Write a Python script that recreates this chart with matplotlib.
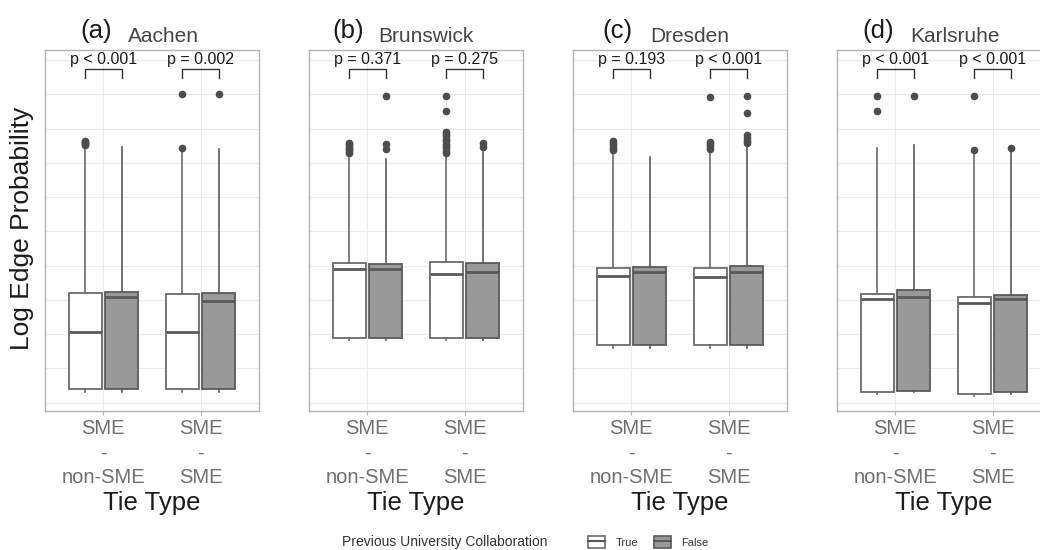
"""Log edge probability by tie type, four regions, split by previous
university collaboration (boxplots with p-value brackets)."""
import matplotlib.pyplot as plt
from matplotlib.lines import Line2D
from matplotlib.patches import Patch
from matplotlib.legend_handler import HandlerTuple

plt.rcParams["font.family"] = ["Liberation Sans", "DejaVu Sans"]

CITIES = ["Aachen", "Brunswick", "Dresden", "Karlsruhe"]
LETTERS = ["(a)", "(b)", "(c)", "(d)"]
TIE_TYPES = ["SME\n-\nnon-SME", "SME\n-\nSME"]
GROUPS = ["True", "False"]
P_LABELS = [
    ["p < 0.001", "p = 0.002"],
    ["p = 0.371", "p = 0.275"],
    ["p = 0.193", "p < 0.001"],
    ["p < 0.001", "p < 0.001"],
]

# box order per city: (non-SME/True, non-SME/False, SME/True, SME/False)
Q1 = [
    [-9.61, -9.61, -9.61, -9.61],
    [-8.10, -8.10, -8.10, -8.10],
    [-8.32, -8.32, -8.32, -8.32],
    [-9.70, -9.65, -9.75, -9.70],
]
MEDIAN = [
    [-7.93, -6.91, -7.93, -7.03],
    [-6.11, -6.11, -6.24, -6.19],
    [-6.29, -6.19, -6.32, -6.19],
    [-6.98, -6.91, -7.10, -6.97],
]
Q3 = [
    [-6.81, -6.76, -6.83, -6.81],
    [-5.93, -5.95, -5.90, -5.93],
    [-6.06, -6.05, -6.06, -6.01],
    [-6.84, -6.71, -6.91, -6.86],
]
WHIS_LO = [
    [-9.68, -9.68, -9.68, -9.68],
    [-8.17, -8.17, -8.17, -8.17],
    [-8.39, -8.39, -8.39, -8.39],
    [-9.74, -9.70, -9.79, -9.74],
]
WHIS_HI = [
    [-2.53, -2.53, -2.62, -2.61],
    [-2.82, -2.90, -2.75, -2.68],
    [-2.70, -2.84, -2.70, -2.52],
    [-2.56, -2.48, -2.66, -2.61],
]
FLIERS = [
    [[-2.36, -2.39, -2.42, -2.45, -2.48], [], [-2.58, -1.00], [-1.00]],
    [[-2.41, -2.46, -2.51, -2.56, -2.61, -2.66, -2.71], [-2.45, -2.61, -1.05],
     [-2.09, -2.16, -2.23, -2.30, -2.37, -2.44, -2.51, -2.58, -2.65, -2.72, -1.49, -1.05],
     [-2.43, -2.55]],
    [[-2.35, -2.42, -2.49, -2.56, -2.63], [],
     [-2.38, -2.45, -2.52, -2.60, -1.07],
     [-2.19, -2.27, -2.35, -2.43, -1.56, -1.05]],
    [[-1.05, -1.49], [-1.05], [-2.63, -1.05], [-2.58]],
]

FILL = {"True": "white", "False": "#999999"}
EDGE = {"True": "#6b6b6b", "False": "#5a5a5a"}

W, H = 1040, 550
PANEL_LEFT = [45, 309, 573, 837]
PANEL_W = 214
PANEL_TOP, PANEL_BOT = 50, 411
TITLE_X = [(80, 128), (332, 378), (602, 650), (862, 910)]


def px(x, y):
    return x / W, 1 - y / H


fig = plt.figure(figsize=(10.4, 5.5), dpi=100)

for i, city in enumerate(CITIES):
    x0, y0 = px(PANEL_LEFT[i], PANEL_BOT)
    ax = fig.add_axes([x0, y0, PANEL_W / W, (PANEL_BOT - PANEL_TOP) / H])

    stats, pos, grp = [], [], []
    for t in range(2):
        for g in range(2):
            k = t * 2 + g
            stats.append(dict(med=MEDIAN[i][k], q1=Q1[i][k], q3=Q3[i][k],
                              whislo=WHIS_LO[i][k], whishi=WHIS_HI[i][k],
                              fliers=FLIERS[i][k]))
            pos.append(t + 1 + (-0.1875 if g == 0 else 0.1875))
            grp.append(GROUPS[g])

    bp = ax.bxp(stats, positions=pos, widths=0.3375, patch_artist=True,
                showcaps=False, manage_ticks=False,
                flierprops=dict(marker="o", markersize=4.5,
                                markerfacecolor="#4d4d4d",
                                markeredgecolor="#4d4d4d"))
    for k, g in enumerate(grp):
        bp["boxes"][k].set(facecolor=FILL[g], edgecolor=EDGE[g], linewidth=1.3)
        bp["medians"][k].set(color="#595959", linewidth=2)
        for wl in bp["whiskers"][2 * k:2 * k + 2]:
            wl.set(color=EDGE[g], linewidth=1.2)

    # p-value brackets
    for t in range(2):
        xl, xr = t + 1 - 0.1875, t + 1 + 0.1875
        ax.plot([xl, xl, xr, xr], [-0.53, -0.26, -0.26, -0.53],
                color="#333333", linewidth=1.0)
        ax.text(t + 1, -0.22, P_LABELS[i][t], ha="center", va="bottom",
                fontsize=11.5, color="#1a1a1a")

    ax.set_xlim(0.4, 2.6)
    ax.set_ylim(-10.24, 0.29)
    ax.set_yticks(range(-10, 1, 2))
    ax.set_yticks(range(-9, 0, 2), minor=True)
    ax.set_xticks([1, 2])
    ax.set_xticklabels(TIE_TYPES, fontsize=14.5, color="#707070",
                       linespacing=1.35)
    ax.tick_params(axis="x", length=3, color="#b3b3b3", pad=3)
    ax.tick_params(axis="y", which="both", length=0, labelleft=False)
    ax.grid(True, which="both", color="#ebebeb", linewidth=0.8)
    ax.set_axisbelow(True)
    for s in ax.spines.values():
        s.set_color("#b3b3b3")
        s.set_linewidth(1.0)
    ax.set_xlabel("Tie Type", fontsize=18.5, color="#1a1a1a", labelpad=3)

    lx, ly = px(TITLE_X[i][0], 38)
    fig.text(lx, ly, LETTERS[i], fontsize=18.5, color="#1a1a1a",
             ha="left", va="baseline")
    nx, ny = px(TITLE_X[i][1], 42)
    fig.text(nx, ny, city, fontsize=15, color="#454545",
             ha="left", va="baseline")

yx, yy = px(22, 228)
fig.text(yx, yy, "Log Edge Probability", rotation=90, fontsize=19,
         color="#1a1a1a", ha="center", va="center")

# legend
tx, ty = px(342, 542)
fig.text(tx, ty, "Previous University Collaboration", fontsize=10,
         color="#333333", ha="left", va="center")
handles = [(Patch(facecolor=FILL[g], edgecolor=EDGE[g], linewidth=1.2),
            Line2D([], [], color="#595959", linewidth=1.5)) for g in GROUPS]
lx, ly = px(582, 542)
fig.legend(handles, GROUPS, loc="center left", bbox_to_anchor=(lx, ly),
           ncol=2, frameon=False, fontsize=8, handlelength=1.6,
           handleheight=1.3, handletextpad=0.9, columnspacing=1.4,
           borderpad=0, labelcolor="#333333",
           handler_map={tuple: HandlerTuple(ndivide=1, pad=0)})

fig.savefig("out.png", dpi=100)
